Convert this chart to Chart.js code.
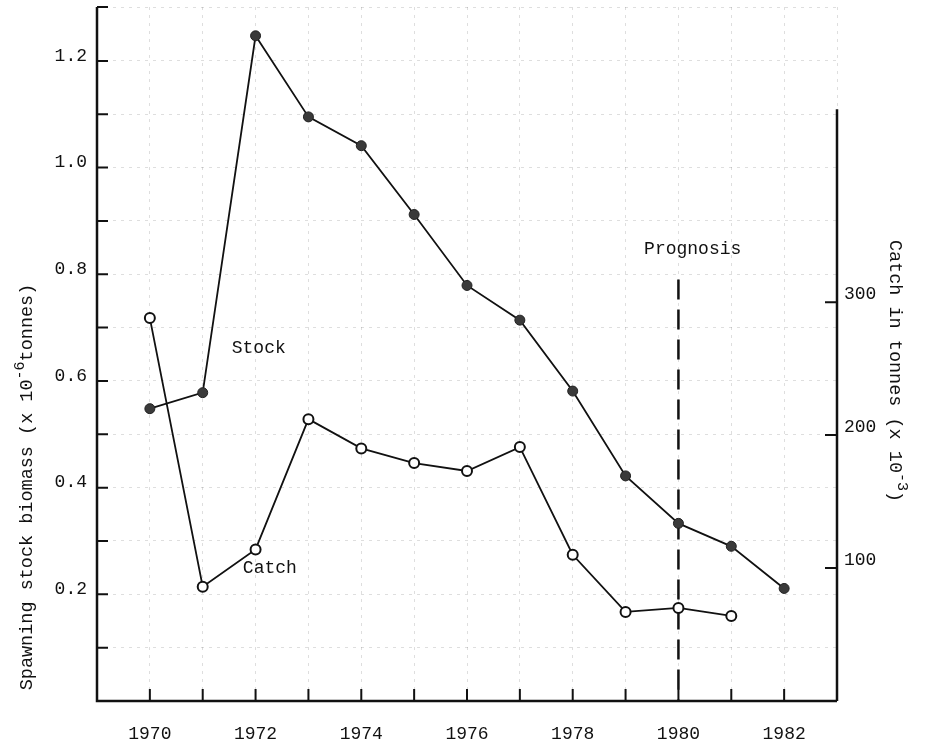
<!DOCTYPE html>
<html>
<head>
<meta charset="utf-8">
<title>Spawning stock and catch</title>
<script src="https://cdn.jsdelivr.net/npm/chart.js@4.4.0/dist/chart.umd.min.js"></script>
<style>
  html, body { margin: 0; padding: 0; background: #fff; }
  canvas { display: block; }
</style>
</head>
<body>
<canvas id="chart" width="925" height="750"></canvas>
<script>
// Data
const stockYears = [1970, 1971, 1972, 1973, 1974, 1975, 1976, 1977, 1978, 1979, 1980, 1981, 1982];
const stockValues = [0.548, 0.578, 1.247, 1.095, 1.041, 0.912, 0.779, 0.714, 0.581, 0.422, 0.333, 0.290, 0.211];

const catchYears = [1970, 1971, 1972, 1973, 1974, 1975, 1976, 1977, 1978, 1979, 1980, 1981];
const catchValues = [288, 86, 114, 212, 190, 179, 173, 191, 110, 67, 70, 64];

const prognosisYear = 1980;
const prognosisTop = 0.79; // on the biomass scale

// Tick labels
const xLabelYears = [1970, 1972, 1974, 1976, 1978, 1980, 1982];
const yLabelValues = [0.2, 0.4, 0.6, 0.8, 1.0, 1.2];
const y2LabelValues = [100, 200, 300];
const y2AxisTop = 445; // right axis line stops here

const FONT = "'Liberation Mono', 'DejaVu Sans Mono', monospace";
const INK = '#111';

/**
 * Draws a rotated string made of parts, some of which are superscripts.
 */
function drawRotatedText(ctx, parts, cx, cy, angle, size) {
    ctx.save();
    ctx.translate(cx, cy);
    ctx.rotate(angle);
    ctx.fillStyle = INK;
    ctx.textBaseline = 'alphabetic';
    ctx.textAlign = 'left';
    const fontFor = p => (p.sup ? Math.round(size * 0.8) : size) + 'px ' + FONT;
    const widths = parts.map(p => {
        ctx.font = fontFor(p);
        return ctx.measureText(p.text).width;
    });
    const total = widths.reduce((a, b) => a + b, 0);
    let px = -total / 2;
    parts.forEach((p, i) => {
        ctx.font = fontFor(p);
        ctx.fillText(p.text, px, p.sup ? -2 : 6);
        px += widths[i];
    });
    ctx.restore();
}

const decorPlugin = {
    id: 'decor',
    afterDatasetsDraw(chart) {
        const { ctx, chartArea } = chart;
        const { x, y, y2 } = chart.scales;
        ctx.save();
        ctx.strokeStyle = INK;
        ctx.lineCap = 'butt';

        // Axis lines
        ctx.lineWidth = 2.5;
        ctx.beginPath();
        ctx.moveTo(chartArea.left, chartArea.top);
        ctx.lineTo(chartArea.left, chartArea.bottom);
        ctx.lineTo(chartArea.right, chartArea.bottom);
        ctx.moveTo(chartArea.right, chartArea.bottom);
        ctx.lineTo(chartArea.right, y2.getPixelForValue(y2AxisTop));
        ctx.stroke();

        // Inward tick marks
        ctx.lineWidth = 2;
        ctx.beginPath();
        x.ticks.forEach(t => {
            if (t.value <= x.min || t.value >= x.max) return;
            const px = x.getPixelForValue(t.value);
            ctx.moveTo(px, chartArea.bottom);
            ctx.lineTo(px, chartArea.bottom - 12);
        });
        y.ticks.forEach(t => {
            if (t.value <= 0) return;
            const py = y.getPixelForValue(t.value);
            ctx.moveTo(chartArea.left, py);
            ctx.lineTo(chartArea.left + 11, py);
        });
        y2LabelValues.forEach(v => {
            const py = y2.getPixelForValue(v);
            ctx.moveTo(chartArea.right, py);
            ctx.lineTo(chartArea.right - 12, py);
        });
        ctx.stroke();

        // Text labels in the plot
        ctx.fillStyle = INK;
        ctx.font = '18px ' + FONT;
        ctx.textAlign = 'center';
        ctx.textBaseline = 'middle';
        ctx.fillText('Stock', x.getPixelForValue(1972.06), y.getPixelForValue(0.662));
        ctx.fillText('Catch', x.getPixelForValue(1972.27), y.getPixelForValue(0.249));
        ctx.fillText('Prognosis', x.getPixelForValue(1980.27), y.getPixelForValue(0.847));

        // Axis titles
        drawRotatedText(ctx, [
            { text: 'Spawning stock biomass (x 10' },
            { text: '-6', sup: true },
            { text: 'tonnes)' }
        ], 26, 487, -Math.PI / 2, 18.5);
        drawRotatedText(ctx, [
            { text: 'Catch in tonnes (x 10' },
            { text: '-3', sup: true },
            { text: ')' }
        ], 896, 371, Math.PI / 2, 18.5);

        ctx.restore();
    }
};

const gridStyle = { color: 'rgba(0,0,0,0.13)', lineWidth: 1, drawTicks: false };

// Fix the axis sizes so the plot box sits where it does in the figure
function fitY(width) {
    return s => { s.width = width; s.paddingTop = 0; s.paddingBottom = 0; };
}

new Chart(document.getElementById('chart'), {
    type: 'line',
    data: {
        datasets: [
            {
                label: 'Stock',
                data: stockYears.map((yr, i) => ({ x: yr, y: stockValues[i] })),
                yAxisID: 'y',
                borderColor: INK,
                borderWidth: 1.8,
                pointRadius: 5,
                pointBackgroundColor: '#3a3a3a',
                pointBorderColor: '#222',
                pointBorderWidth: 1,
                tension: 0
            },
            {
                label: 'Catch',
                data: catchYears.map((yr, i) => ({ x: yr, y: catchValues[i] })),
                yAxisID: 'y2',
                borderColor: INK,
                borderWidth: 1.8,
                pointRadius: 5,
                pointBackgroundColor: '#fff',
                pointBorderColor: INK,
                pointBorderWidth: 2,
                tension: 0
            },
            {
                label: 'Prognosis',
                // drawn top-down so the dash pattern starts at the top
                data: [{ x: prognosisYear, y: prognosisTop }, { x: prognosisYear, y: 0 }],
                yAxisID: 'y',
                borderColor: INK,
                borderWidth: 2.5,
                borderDash: [20, 10],
                pointRadius: 0
            }
        ]
    },
    options: {
        responsive: false,
        animation: false,
        layout: { padding: { top: 5, left: 0, right: 0, bottom: 0 } },
        plugins: {
            legend: { display: false },
            tooltip: { enabled: false },
            title: { display: false }
        },
        scales: {
            x: {
                type: 'linear',
                min: 1969,
                max: 1983,
                grid: gridStyle,
                border: { display: false, dash: [3, 5] },
                afterFit: s => { s.height = 49; s.paddingLeft = 0; s.paddingRight = 0; },
                ticks: {
                    stepSize: 1,
                    padding: 22,
                    color: INK,
                    font: { family: FONT, size: 18 },
                    maxRotation: 0,
                    autoSkip: false,
                    callback: v => xLabelYears.includes(v) ? String(v) : ''
                }
            },
            y: {
                position: 'left',
                min: 0,
                max: 1.301,
                grid: gridStyle,
                border: { display: false, dash: [3, 5] },
                afterFit: fitY(97),
                ticks: {
                    stepSize: 0.1,
                    padding: 10,
                    labelOffset: -5,
                    color: INK,
                    font: { family: FONT, size: 18 },
                    autoSkip: false,
                    callback: v => {
                        const r = Math.round(v * 10) / 10;
                        return (Math.abs(v - r) < 1e-6 && yLabelValues.some(l => Math.abs(l - r) < 1e-6)) ? r.toFixed(1) : '';
                    }
                }
            },
            y2: {
                position: 'right',
                min: 0,
                max: 522,
                grid: { display: false, drawTicks: false },
                border: { display: false },
                afterFit: fitY(88),
                ticks: {
                    stepSize: 100,
                    padding: 7,
                    labelOffset: -8,
                    color: INK,
                    font: { family: FONT, size: 18 },
                    autoSkip: false,
                    callback: v => y2LabelValues.includes(v) ? String(v) : ''
                }
            }
        }
    },
    plugins: [decorPlugin]
});
</script>
</body>
</html>
